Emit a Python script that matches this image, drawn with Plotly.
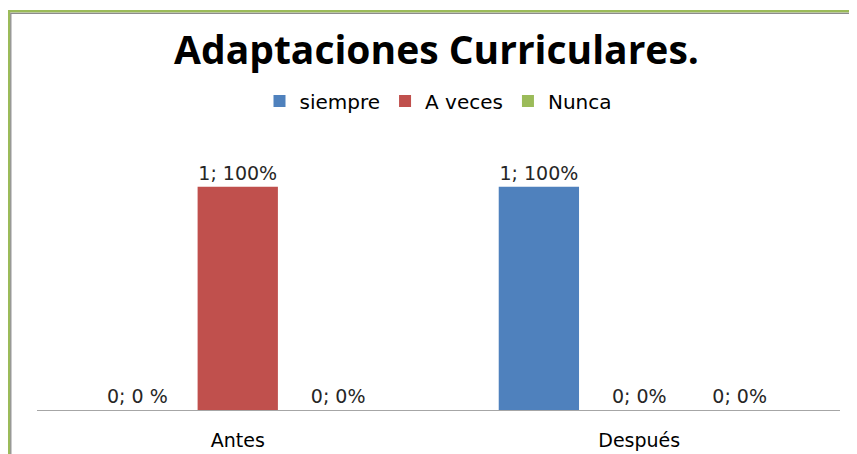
import plotly.graph_objects as go

# Datos
categorias = ["Antes", "Después"]
series = ["siempre", "A veces", "Nunca"]
valores = {
    "siempre": [0, 1],
    "A veces": [1, 0],
    "Nunca": [0, 0],
}
etiquetas = {
    "siempre": ["0; 0 %", "1; 100%"],
    "A veces": ["1; 100%", "0; 0%"],
    "Nunca": ["0; 0%", "0; 0%"],
}
colores = {"siempre": "#4f81bd", "A veces": "#c0504d", "Nunca": "#9bbb59"}

fuente = "DejaVu Sans"

# el html se dibuja con 8px de margen del body: todo se desplaza 8px
L, R, T, B = 29, 25, 134, 52
ancho_plot = 857 - L - R
alto_plot = 454 - T - B
base = 454 - B

fig = go.Figure()
for s in series:
    fig.add_trace(go.Bar(
        x=categorias,
        y=valores[s],
        name=s,
        marker=dict(color=colores[s], line=dict(width=0)),
        text=etiquetas[s],
        textposition="outside",
        textfont=dict(family=fuente, size=19, color="#262626"),
        cliponaxis=False,
    ))

fig.update_layout(
    width=857,
    height=454,
    margin=dict(l=L, r=R, t=T, b=B),
    barmode="group",
    bargap=0.25,
    bargroupgap=0.2,
    paper_bgcolor="white",
    plot_bgcolor="white",
    title=dict(
        text="<b>Adaptaciones Curriculares.</b>",
        x=0.5, xanchor="center",
        y=1 - 42 / 454, yanchor="middle",
        font=dict(family="Open Sans", size=39, color="black"),
    ),
    legend=dict(
        orientation="h",
        x=0.5, xanchor="center",
        y=(base - 93) / alto_plot, yanchor="middle",
        font=dict(family=fuente, size=20, color="black"),
        itemwidth=30,
    ),
    xaxis=dict(
        showline=True, linecolor="#a6a6a6", linewidth=1,
        ticks="outside", ticklen=13, tickcolor="rgba(0,0,0,0)",
        tickfont=dict(family=fuente, size=19, color="black"),
        range=[-0.5, 1.5], automargin=False,
    ),
    yaxis=dict(
        range=[0, 1.2], showgrid=False, showticklabels=False,
        zeroline=False, showline=False, automargin=False,
    ),
    showlegend=True,
)

# marco del documento (verde por fuera, gris por dentro)
fig.add_shape(
    type="rect", xref="paper", yref="paper",
    x0=(1 - L) / ancho_plot, x1=1.2,
    y0=-0.5, y1=(base - 3.3) / alto_plot,
    line=dict(color="#9bbb59", width=2.5), fillcolor="rgba(0,0,0,0)",
)
fig.add_shape(
    type="rect", xref="paper", yref="paper",
    x0=(2.8 - L) / ancho_plot, x1=1.2,
    y0=-0.5, y1=(base - 5.4) / alto_plot,
    line=dict(color="#8c8c8c", width=1.3), fillcolor="rgba(0,0,0,0)",
)

fig.write_html("out.html")
